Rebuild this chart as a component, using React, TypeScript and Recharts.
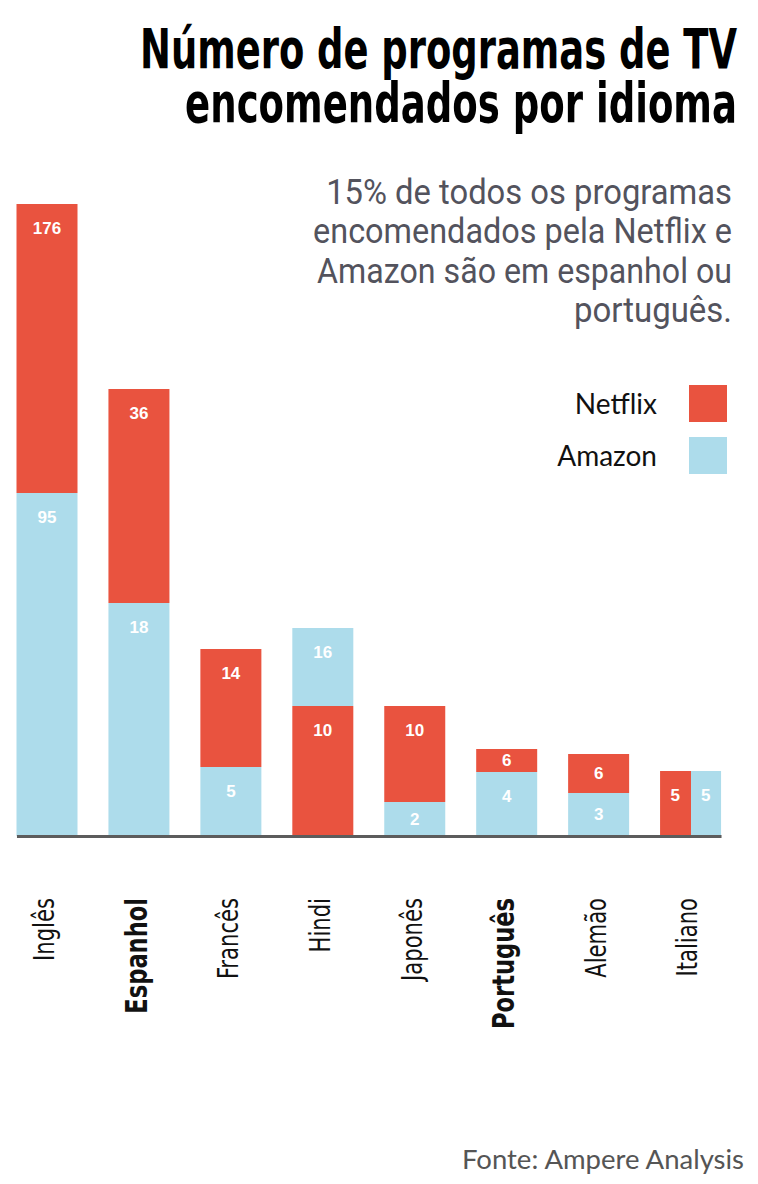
import { useLayoutEffect, useRef, useState } from 'react';
import { BarChart, Bar, XAxis, YAxis, Cell, LabelList, ReferenceLine } from 'recharts';

const categories = ['Inglês', 'Espanhol', 'Francês', 'Hindi', 'Japonês', 'Português', 'Alemão', 'Italiano'];
const highlighted = ['Espanhol', 'Português'];

// counts printed on the bars
const netflix = [176, 36, 14, 10, 10, 6, 6, 5];
const amazon = [95, 18, 5, 16, 2, 4, 3, 5];

// which service sits at the bottom of each stack ('split' = side by side)
const bottomService = ['amazon', 'amazon', 'amazon', 'netflix', 'amazon', 'amazon', 'amazon', 'split'];

// segment heights as drawn in the graphic (not proportional to the counts)
const bottomHeight = [343, 233, 69, 130, 34, 64, 43, 65];
const topHeight = [289, 214, 118, 78, 96, 23, 39, 0];

const titleLines = ['Número de programas de TV', 'encomendados por idioma'];
const subtitleLines = ['15% de todos os programas', 'encomendados pela Netflix e', 'Amazon são em espanhol ou', 'português.'];

const RED = '#E9533F';
const BLUE = '#ADDCEB';
const BAR = 61;
const NARROW = "'Liberation Sans Narrow', 'DejaVu Sans Condensed', sans-serif";

const data = categories.map((name, i) => {
  const svc = bottomService[i];
  return {
    name,
    bottom: bottomHeight[i],
    top: topHeight[i],
    bottomFill: svc === 'netflix' ? RED : svc === 'amazon' ? BLUE : 'url(#italianoSplit)',
    topFill: svc === 'netflix' ? BLUE : RED,
    bottomLabel: svc === 'netflix' ? netflix[i] : amazon[i],
    topLabel: svc === 'split' ? '' : svc === 'netflix' ? amazon[i] : netflix[i],
    split: svc === 'split',
  };
});

function labelY(y: number, h: number) {
  return y + Math.min(24, h / 2);
}

const numStyle = { fill: '#fff', fontFamily: "'Liberation Sans', Arial, sans-serif", fontWeight: 700, fontSize: 17 };

function BottomLabel(props: any) {
  const { x, y, width, height, index } = props;
  const d = data[index];
  const cy = labelY(y, height);
  if (d.split) {
    return (
      <g>
        <text x={x + width / 4} y={cy} textAnchor="middle" dominantBaseline="central" style={numStyle}>{netflix[index]}</text>
        <text x={x + (3 * width) / 4} y={cy} textAnchor="middle" dominantBaseline="central" style={numStyle}>{amazon[index]}</text>
      </g>
    );
  }
  return <text x={x + width / 2} y={cy} textAnchor="middle" dominantBaseline="central" style={numStyle}>{d.bottomLabel}</text>;
}

function TopLabel(props: any) {
  const { x, y, width, height, index } = props;
  const d = data[index];
  if (!d.topLabel) return null;
  return <text x={x + width / 2} y={labelY(y, height)} textAnchor="middle" dominantBaseline="central" style={numStyle}>{d.topLabel}</text>;
}

function CategoryTick(props: any) {
  const { x, y, payload } = props;
  const bold = highlighted.includes(payload.value);
  return (
    <text
      transform={`translate(${x - 4}, ${y + 62}) rotate(-90) scale(0.81, 1)`}
      textAnchor="end"
      dy="0.36em"
      fill="#111"
      fontFamily={NARROW}
      fontSize={bold ? 31 : 29}
      fontWeight={bold ? 700 : 400}
    >
      {payload.value}
    </text>
  );
}

function Baseline(props: any) {
  const { x1, x2, y1 } = props;
  return <line x1={x1 - BAR / 2} x2={x2 + BAR / 2} y1={y1 + 0.5} y2={y1 + 0.5} stroke="#5c5c5c" strokeWidth={3} />;
}

// right-aligned text squeezed horizontally to a given width
function FitText({ x, y, width, children, ...rest }: any) {
  const ref = useRef<SVGTextElement>(null);
  const [k, setK] = useState(1);
  useLayoutEffect(() => {
    const n = ref.current ? ref.current.getComputedTextLength() : 0;
    if (n > 0) setK(width / n);
  }, [width]);
  return (
    <text ref={ref} transform={`translate(${x}, ${y}) scale(${k}, 1)`} textAnchor="end" {...rest}>
      {children}
    </text>
  );
}

export default function App() {
  return (
    <div style={{ position: 'absolute', left: 0, top: 0, width: 758, height: 1184, background: '#fff', overflow: 'hidden' }}>
      <svg width={0} height={0} style={{ position: 'absolute' }}>
        <defs>
          <linearGradient id="italianoSplit" x1="0" y1="0" x2="1" y2="0">
            <stop offset="0.5" stopColor={RED} />
            <stop offset="0.5" stopColor={BLUE} />
          </linearGradient>
        </defs>
      </svg>

      <div style={{ position: 'absolute', left: 0, top: 0 }}>
        <BarChart width={758} height={1184} data={data} margin={{ top: 204, right: 21, bottom: 208, left: 1.5 }} barSize={BAR}>
          <XAxis dataKey="name" height={140} axisLine={false} tickLine={false} tickSize={0} tickMargin={0} interval={0} tick={<CategoryTick />} />
          <YAxis hide domain={[0, 632]} />
          <Bar dataKey="bottom" stackId="s" isAnimationActive={false}>
            {data.map((d, i) => (
              <Cell key={i} fill={d.bottomFill} />
            ))}
            <LabelList dataKey="bottomLabel" content={<BottomLabel />} />
          </Bar>
          <Bar dataKey="top" stackId="s" isAnimationActive={false}>
            {data.map((d, i) => (
              <Cell key={i} fill={d.topFill} />
            ))}
            <LabelList dataKey="topLabel" content={<TopLabel />} />
          </Bar>
          <ReferenceLine
            segment={[{ x: categories[0], y: 0 }, { x: categories[categories.length - 1], y: 0 }]}
            shape={<Baseline />}
            ifOverflow="visible"
          />
        </BarChart>
      </div>

      <svg width={758} height={340} style={{ position: 'absolute', left: 0, top: 0 }}>
        {titleLines.map((line, i) => (
          <FitText key={line} x={737} y={68 + i * 54} width={[597, 552][i]} fontFamily={NARROW} fontWeight={700} fontSize={56} fill="#000">
            {line}
          </FitText>
        ))}
        {subtitleLines.map((line, i) => (
          <FitText key={line} x={732} y={204 + i * 39.3} width={[406, 419, 415, 158][i]} fontFamily="Roboto, sans-serif" fontSize={36} fill="#53535d">
            {line}
          </FitText>
        ))}
      </svg>

      <div style={{ position: 'absolute', left: 520, top: 385, width: 207, fontFamily: 'Lato, sans-serif', fontSize: 28, color: '#111' }}>
        {[['Netflix', RED], ['Amazon', BLUE]].map(([label, color], i) => (
          <div key={label} style={{ display: 'flex', alignItems: 'center', justifyContent: 'flex-end', height: 37, marginBottom: i === 0 ? 15 : 0 }}>
            <span style={{ marginRight: 32, lineHeight: '37px' }}>{label}</span>
            <span style={{ width: 38, height: 37, background: color, display: 'inline-block' }} />
          </div>
        ))}
      </div>

      <div style={{ position: 'absolute', right: 14, top: 1142, fontFamily: 'Lato, sans-serif', fontSize: 27.5, color: '#555' }}>
        Fonte: Ampere Analysis
      </div>
    </div>
  );
}
